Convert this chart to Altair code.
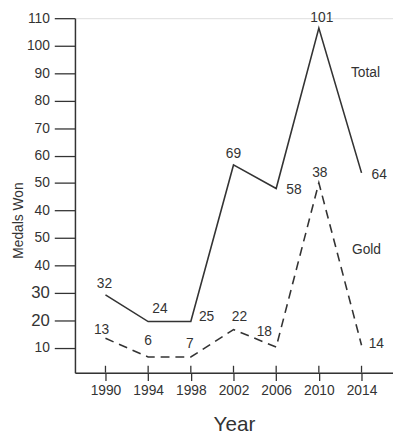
import altair as alt
import pandas as pd

# ---- data ----
years = [1990, 1994, 1998, 2002, 2006, 2010, 2014]
total_won = [32, 24, 25, 69, 58, 101, 64]
gold_won = [13, 6, 7, 22, 18, 38, 14]
# heights at which the (hand-drawn) figure places each point, in the units of
# its printed axis (which reads 10,20,30,40,50 | 40,50,...,110 from the bottom)
total_drawn = [9.3, -0.4, -0.4, 56.6, 48.0, 106.4, 53.7]
gold_drawn = [-6.5, -13.3, -13.3, -3.3, -9.7, 50.1, -9.0]
y_tick_values = list(range(-10, 111, 10))
series_names = ["Total", "Gold"]

# ---- layout / style (label offsets in pixels) ----
total_offsets = [(-1, -11), (12, -13), (16, -5), (0, -11), (18, 2), (3, -10), (18, 2)]
gold_offsets = [(-4, -8), (0, -16), (-1, -13), (6, -13), (-12, -15), (1, -10), (15, -1)]
INK = "#333333"
FONT = "Liberation Sans"

rows = []
for i, y in enumerate(years):
    rows.append({"series": "Total", "year": y, "drawn": total_drawn[i], "won": total_won[i]})
    rows.append({"series": "Gold", "year": y, "drawn": gold_drawn[i], "won": gold_won[i]})
df = pd.DataFrame(rows)

x_enc = alt.X(
    "year:Q",
    scale=alt.Scale(domain=[1987.14, 2016.95], nice=False, zero=False),
    axis=alt.Axis(
        values=years, format="d", title="Year", grid=False,
        tickSize=8, tickWidth=1.3, tickColor=INK,
        domainColor=INK, domainWidth=1.5,
        labelFontSize=14, labelColor=INK, labelPadding=3,
        titleFontSize=21, titleFontWeight="normal", titleColor=INK, titlePadding=17,
    ),
)
y_enc = alt.Y(
    "drawn:Q",
    scale=alt.Scale(domain=[-19, 110], nice=False, zero=False),
    axis=alt.Axis(
        values=y_tick_values, tickCount=13,
        labelExpr="datum.value <= 30 ? datum.value + 20 : datum.value",
        labelFontSize={"condition": {"test": "datum.value == 0 || datum.value == 10", "value": 17}, "value": 14},
        labelOverlap=False,
        title="Medals Won", grid=False,
        tickSize=21, tickWidth=1.3, tickColor=INK,
        domainColor=INK, domainWidth=1.5,
        labelColor=INK, labelPadding=5,
        titleFontSize=14, titleFontWeight="normal", titleColor=INK,
        titleX=-50, titleY=205,
    ),
)

base = alt.Chart(df).encode(x=x_enc, y=y_enc)

total_line = base.transform_filter(alt.datum.series == "Total").mark_line(
    color=INK, strokeWidth=1.6
)

gold_line = base.transform_filter(alt.datum.series == "Gold").mark_line(
    color=INK, strokeWidth=1.6, strokeDash=[9, 6]
)

# ticks crossing the x axis slightly above it
tick_up = alt.Chart(pd.DataFrame({"year": years})).mark_rule(
    color=INK, strokeWidth=1.3
).encode(x=x_enc, y=alt.value(353), y2=alt.value(360))

layers = [total_line, gold_line, tick_up]

for name, offs in (("Total", total_offsets), ("Gold", gold_offsets)):
    for yr, (dx, dy) in zip(years, offs):
        layers.append(
            base.transform_filter(
                (alt.datum.series == name) & (alt.datum.year == yr)
            ).mark_text(
                dx=dx, dy=dy, fontSize=14, font=FONT, color=INK,
                align="center", baseline="middle",
            ).encode(text="won:Q")
        )

# series names, anchored to the last point of each series
series_label_offsets = {"Total": (4, -101), "Gold": (5, -97)}
for name in series_names:
    dx, dy = series_label_offsets[name]
    layers.append(
        base.transform_filter(
            (alt.datum.series == name) & (alt.datum.year == years[-1])
        ).transform_calculate(lbl="datum.series").mark_text(
            dx=dx, dy=dy, fontSize=14, font=FONT, color=INK,
            align="center", baseline="middle",
        ).encode(text="lbl:N")
    )

chart = alt.layer(*layers).properties(
    width=323, height=360,
    padding={"left": 4, "top": 0, "right": 0, "bottom": 0},
).configure_view(stroke=None).configure(font=FONT, background="white")

chart.save("out.html", embed_options={"renderer": "svg", "actions": False})
